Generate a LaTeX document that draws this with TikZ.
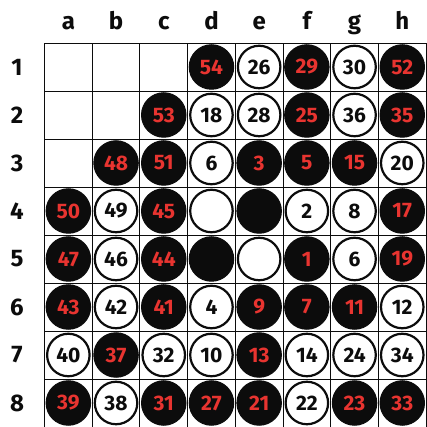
\documentclass[tikz,border=0pt]{standalone}
\usepackage{fontspec}
\setmainfont{Fira Sans}
\definecolor{numred}{RGB}{232,52,48}
\definecolor{ink}{RGB}{12,12,12}
\begin{document}
\begin{tikzpicture}[x=1pt,y=1pt,
  bstone/.style={circle,fill=ink,draw=ink,line width=1pt,minimum size=44.5pt,inner sep=0pt,text=numred,font=\fontsize{21}{21}\selectfont\bfseries},
  wstone/.style={circle,fill=white,draw=ink,line width=2.2pt,minimum size=42.5pt,inner sep=0pt,text=ink,font=\fontsize{21}{21}\selectfont\bfseries},
  lbl/.style={text=ink,font=\fontsize{24}{24}\selectfont\bfseries,inner sep=0pt},
  gridline/.style={draw=ink,line width=0.9pt}]
\useasboundingbox (0,0) rectangle (426,427);
\fill[white] (0,0) rectangle (426,427);
\def\xl{44.5}\def\cw{47.7}\def\yt{384}\def\ch{48}
% grid
\foreach \i in {0,...,8} {
  \draw[gridline] ({\xl+\i*\cw},0) -- ({\xl+\i*\cw},\yt);
  \draw[gridline] (\xl,{\yt-\i*\ch}) -- (426,{\yt-\i*\ch});
}
% labels
\foreach \c [count=\i from 0] in {a,b,c,d,e,f,g,h}
  \node[lbl,anchor=base] (col\c) at ({\xl+(\i+0.5)*\cw},397) {\c};
\foreach \r in {1,...,8}
  \node[lbl] (row\r) at (17,{\yt-(\r-0.5)*\ch}) {\r};
% stone positions
\foreach \c/\i in {a/0,b/1,c/2,d/3,e/4,f/5,g/6,h/7}
  \foreach \r in {1,...,8}
    \coordinate (p\c\r) at ({\xl+(\i+0.5)*\cw},{\yt-(\r-0.5)*\ch});
\foreach \s/\t/\n in {d1/b/54,e1/w/26,f1/b/29,g1/w/30,h1/b/52,
  c2/b/53,d2/w/18,e2/w/28,f2/b/25,g2/w/36,h2/b/35,
  b3/b/48,c3/b/51,d3/w/6,e3/b/3,f3/b/5,g3/b/15,h3/w/20,
  a4/b/50,b4/w/49,c4/b/45,d4/w/,e4/b/,f4/w/2,g4/w/8,h4/b/17,
  a5/b/47,b5/w/46,c5/b/44,d5/b/,e5/w/,f5/b/1,g5/w/6,h5/b/19,
  a6/b/43,b6/w/42,c6/b/41,d6/w/4,e6/b/9,f6/b/7,g6/b/11,h6/w/12,
  a7/w/40,b7/b/37,c7/w/32,d7/w/10,e7/b/13,f7/w/14,g7/w/24,h7/w/34,
  a8/b/39,b8/w/38,c8/b/31,d8/b/27,e8/b/21,f8/w/22,g8/b/23,h8/b/33}
  \node[\t stone] (s\s) at (p\s) {\n};
\end{tikzpicture}
\end{document}
